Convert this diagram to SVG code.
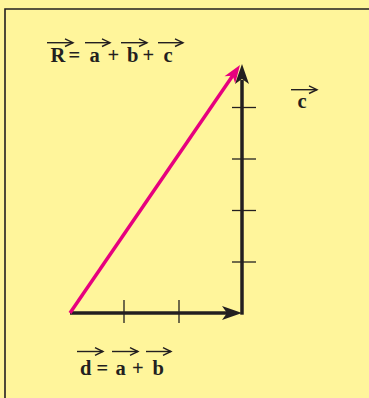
<svg xmlns="http://www.w3.org/2000/svg" width="369" height="398" viewBox="0 0 369 398">
<defs>
<style>
.t{font-family:"Liberation Serif","Times New Roman",serif;font-weight:bold;font-size:20.5px;fill:#231f20}
.va{stroke:#231f20;stroke-width:1.4;fill:none}
.ax{stroke:#231f20;stroke-width:3.5;fill:none}
.tk{stroke:#231f20;stroke-width:1.3}
</style>
<marker id="hb" markerWidth="12" markerHeight="12" viewBox="-10 -6 12 12" refX="0" refY="0" orient="auto" markerUnits="userSpaceOnUse">
<path d="M-8,-3.8 L0,0 L-8,3.8" fill="none" stroke="#231f20" stroke-width="1.4"/>
</marker>
</defs>
<rect x="0" y="0" width="369" height="398" fill="#fff59b"/>
<path d="M5,400 V9 H372" fill="none" stroke="#231f20" stroke-width="1.6"/>
<g id="connectors">
<line class="ax" x1="70" y1="313" x2="228" y2="313"/>
<path d="M242,313 L222,306 L227,313 L222,320 Z" fill="#231f20"/>
<line class="ax" x1="242" y1="314.7" x2="242" y2="80"/>
<path d="M242,64 L235,84 L242,79 L249,84 Z" fill="#231f20"/>
<line x1="70" y1="313" x2="233.5" y2="74.5" stroke="#e6007e" stroke-width="3.5"/>
<path d="M240,65 L235.2,83.5 L232.7,75.7 L224.5,76.2 Z" fill="#e6007e"/>
</g>
<g id="ticks">
<line class="tk" x1="124" y1="300" x2="124" y2="323"/>
<line class="tk" x1="179" y1="300" x2="179" y2="323"/>
<line class="tk" x1="232" y1="107.5" x2="256" y2="107.5"/>
<line class="tk" x1="232" y1="159" x2="256" y2="159"/>
<line class="tk" x1="232" y1="210.5" x2="256" y2="210.5"/>
<line class="tk" x1="232" y1="262" x2="256" y2="262"/>
</g>
<g id="label-R">
<text class="t" y="62"><tspan x="50.5">R</tspan><tspan x="68.5">=</tspan><tspan x="89.5">a</tspan><tspan x="107.5">+</tspan><tspan x="127">b</tspan><tspan x="142.5">+</tspan><tspan x="163.5">c</tspan></text>
<line class="va" x1="47" y1="42.7" x2="73" y2="42.7" marker-end="url(#hb)"/>
<line class="va" x1="85" y1="42.7" x2="110" y2="42.7" marker-end="url(#hb)"/>
<line class="va" x1="121" y1="42.7" x2="147" y2="42.7" marker-end="url(#hb)"/>
<line class="va" x1="158" y1="42.7" x2="183" y2="42.7" marker-end="url(#hb)"/>
</g>
<g id="label-c">
<text class="t" x="297.5" y="108">c</text>
<line class="va" x1="291" y1="89.7" x2="317" y2="89.7" marker-end="url(#hb)"/>
</g>
<g id="label-d">
<text class="t" y="375"><tspan x="80">d</tspan><tspan x="96.5">=</tspan><tspan x="115.5">a</tspan><tspan x="132">+</tspan><tspan x="152.5">b</tspan></text>
<line class="va" x1="77" y1="351.5" x2="103" y2="351.5" marker-end="url(#hb)"/>
<line class="va" x1="112" y1="351.5" x2="138" y2="351.5" marker-end="url(#hb)"/>
<line class="va" x1="146" y1="351.5" x2="171" y2="351.5" marker-end="url(#hb)"/>
</g>
</svg>
